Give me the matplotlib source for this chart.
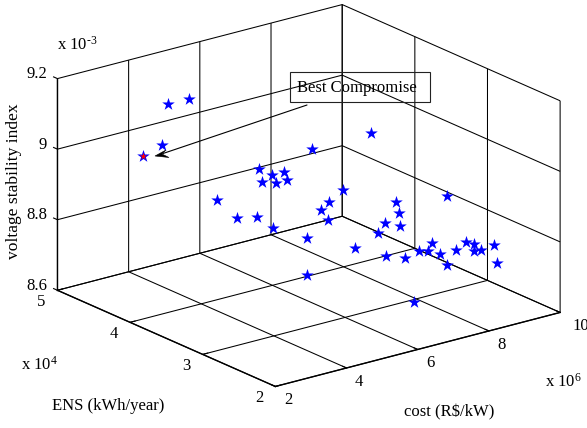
import matplotlib
matplotlib.use("Agg")
import matplotlib.pyplot as plt
from matplotlib.patches import Polygon
from mpl_toolkits.mplot3d import Axes3D  # noqa

plt.rcParams['font.family'] = ['Liberation Serif', 'DejaVu Serif']
plt.rcParams['font.size'] = 12
plt.rcParams['mathtext.default'] = 'regular'
plt.rcParams['axes.unicode_minus'] = False
plt.rcParams['grid.color'] = 'black'
plt.rcParams['grid.linewidth'] = 0.7

# values: cost (x 10^6 R$/kW), ENS (x 10^4 kWh/year), voltage stability index (x 10^-3)
cost = [3.28, 3.87, 3.11, 2.88, 4.61, 4.98, 5.01, 5.00, 5.09, 5.09, 4.04,
        4.60, 4.86, 5.00, 6.53, 5.49, 8.05, 6.05, 5.66, 5.43, 7.23, 7.32,
        5.63, 5.35, 6.73, 6.92, 7.34, 6.08, 6.65, 7.18, 7.26, 7.52, 7.63,
        7.86, 8.05, 8.00, 8.28, 8.50, 8.50, 8.70, 8.76, 8.84, 5.04, 6.82]
ens = [4.10, 4.10, 4.10, 4.25, 3.50, 3.50, 3.35, 3.65, 3.50, 3.35, 3.80,
       3.80, 3.65, 3.50, 2.90, 3.20, 2.60, 3.05, 3.05, 3.05, 2.90, 2.90,
       3.05, 3.20, 2.90, 2.90, 2.90, 2.90, 2.75, 2.75, 2.60, 2.60, 2.60,
       2.60, 2.60, 2.45, 2.45, 2.45, 2.45, 2.45, 2.30, 2.30, 3.05, 2.45]
vsi = [9.177, 9.176, 9.065, 9.026, 9.012, 8.985, 9.007, 8.951, 8.959, 8.982, 8.911,
       8.845, 8.855, 8.834, 9.118, 9.073, 8.927, 8.955, 8.932, 8.915, 8.904, 8.870,
       8.881, 8.824, 8.829, 8.852, 8.833, 8.803, 8.779, 8.760, 8.791, 8.784, 8.804,
       8.767, 8.731, 8.788, 8.803, 8.792, 8.772, 8.770, 8.796, 8.742, 8.740, 8.671]
best_cost = [2.88]
best_ens = [4.25]
best_vsi = [9.026]

cost_ticks = [2, 4, 6, 8, 10]
ens_ticks = [2, 3, 4, 5]
vsi_ticks = [8.6, 8.8, 9.0, 9.2]
vsi_labels = ['8.6', '8.8', '9', '9.2']

W, H = 587, 428
fig = plt.figure(figsize=(W / 100, H / 100), dpi=100)
size = 538.4
ax = fig.add_axes([32.3 / W, -44 / H, size / W, size / H], projection='3d',
                  proj_type='ortho')
ax.computed_zorder = False
ax.patch.set_visible(False)
ax.view_init(elev=19.8, azim=-127.5)
ax.set_box_aspect((359, 358, 225))

ax.scatter(cost, ens, vsi, marker='*', s=90, c='#0000ff', linewidths=0, depthshade=False,
           zorder=5)
ax.scatter(best_cost, best_ens, best_vsi, marker='*', s=28, c='#ff0000', linewidths=0,
           depthshade=False, zorder=6)

ax.set_xlim(2, 10, view_margin=0)
ax.set_ylim(2, 5, view_margin=0)
ax.set_zlim(8.6, 9.2, view_margin=0)
ax.set_xticks(cost_ticks)
ax.set_yticks(ens_ticks)
ax.set_zticks(vsi_ticks)
ax.set_zticklabels(vsi_labels)
ax.set_xticklabels([str(t) for t in cost_ticks])
ax.set_yticklabels([str(t) for t in ens_ticks])
ax.tick_params(axis='x', pad=3.8)
ax.tick_params(axis='y', pad=3.3)
ax.tick_params(axis='z', pad=-3.8)

for axis in (ax.xaxis, ax.yaxis, ax.zaxis):
    axis.set_pane_color((1, 1, 1, 0))
    axis.pane.set_edgecolor('black')
    axis.pane.set_linewidth(0.8)
    axis.line.set_color('black')
    axis.line.set_linewidth(1.0)
    axis._axinfo['tick']['inward_factor'] = 0.0
    axis._axinfo['tick']['outward_factor'] = 0.22
    axis._axinfo['tick']['linewidth'] = {True: 0.8, False: 0.5}
    axis._axinfo['grid']['color'] = 'black'
    axis._axinfo['grid']['linewidth'] = 0.75
ax.zaxis._axinfo['juggled'] = (1, 2, 0)
ax.zaxis.set_ticks_position('lower')


def align_labels(axis, ha):
    for lab in axis.get_ticklabels():
        lab.set_horizontalalignment(ha)
        lab.set_verticalalignment('baseline')


align_labels(ax.xaxis, 'center')
align_labels(ax.yaxis, 'center')
align_labels(ax.zaxis, 'right')
ax.xaxis.get_ticklabels()[-1].set_horizontalalignment('left')


def fx(x):
    return x / W


def fy(y):
    return 1 - y / H


fig.text(fx(108), fy(406), 'ENS (kWh/year)', ha='center', va='center')
fig.text(fx(449), fy(412), 'cost (R$/kW)', ha='center', va='center')
fig.text(fx(14), fy(181), 'voltage stability index', rotation=90, ha='center', va='center',
         fontsize=12.6)
fig.text(fx(57), fy(45), 'x 10$^{\u20103}$', ha='left', va='center')
fig.text(fx(21), fy(365), 'x 10$^{4}$', ha='left', va='center')
fig.text(fx(545), fy(382), 'x 10$^{6}$', ha='left', va='center')

fig.text(fx(297), fy(88), 'Best Compromise', ha='left', va='center')
fig.add_artist(plt.Rectangle((fx(290), fy(102)), 140 / W, 30 / H, fill=False,
                             edgecolor='#222222', linewidth=0.8,
                             transform=fig.transFigure))
ax.annotate('', xy=(fx(163), fy(153.5)), xytext=(fx(307), fy(105)),
            xycoords='figure fraction', textcoords='figure fraction',
            arrowprops=dict(arrowstyle='-', color='black', lw=0.8, shrinkA=0, shrinkB=0))
fig.add_artist(Polygon([(fx(155), fy(156)), (fx(166), fy(150)), (fx(162), fy(154)),
                        (fx(169), fy(157.5))],
                       closed=True, facecolor='black', edgecolor='black', linewidth=0.4,
                       transform=fig.transFigure))

fig.savefig('out.png', dpi=100)
